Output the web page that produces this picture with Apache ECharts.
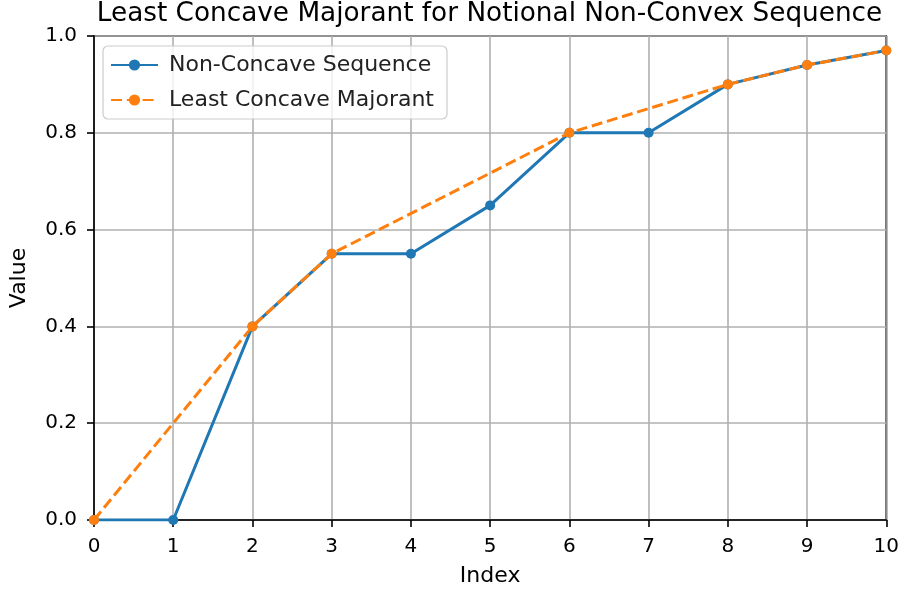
<!DOCTYPE html>
<html>
<head>
<meta charset="utf-8">
<script src="https://cdn.jsdelivr.net/npm/echarts@6/dist/echarts.min.js"></script>
<style>
  html, body { margin: 0; padding: 0; background: #fff; }
  #chart { width: 902px; height: 592px; }
</style>
</head>
<body>
<div id="chart"></div>
<script>
// Sequence values at each index
const seqIndex = [0, 1, 2, 3, 4, 5, 6, 7, 8, 9, 10];
const seqValues = [0, 0, 0.4, 0.55, 0.55, 0.65, 0.8, 0.8, 0.9, 0.94, 0.97];

// Vertices of the least concave majorant
const lcmIndex = [0, 2, 3, 6, 8, 9, 10];
const lcmValues = [0, 0.4, 0.55, 0.8, 0.9, 0.94, 0.97];

const titleText = 'Least Concave Majorant for Notional Non-Convex Sequence';
const xName = 'Index';
const yName = 'Value';

const FONT = 'DejaVu Sans';
const BLUE = '#1f77b4';
const ORANGE = '#ff7f0e';

const pairs = (xs, ys) => xs.map((x, i) => [x, ys[i]]);

const chart = echarts.init(document.getElementById('chart'), null, { renderer: 'canvas' });

const PLOT = { left: 92, top: 36, right: 887, bottom: 521 };

const axisCommon = {
  axisLine: { show: true, onZero: false, lineStyle: { color: '#000', width: 1.6 } },
  axisTick: { show: true, inside: false, length: 7, lineStyle: { color: '#000', width: 1.6 } },
  splitLine: { show: true, lineStyle: { color: '#b0b0b0', width: 1.6 } },
  nameTextStyle: { fontFamily: FONT, fontSize: 22, color: '#000' }
};

chart.setOption({
  animation: false,
  backgroundColor: '#ffffff',
  graphic: [{
    type: 'text',
    x: (PLOT.left + PLOT.right) / 2,
    y: 14.5,
    z: 10,
    style: {
      text: titleText,
      font: '26.3px "' + FONT + '"',
      fill: '#000',
      align: 'center',
      verticalAlign: 'middle'
    }
  }],
  grid: {
    show: true,
    left: PLOT.left,
    top: PLOT.top,
    right: 902 - PLOT.right,
    bottom: 592 - PLOT.bottom,
    borderColor: '#000',
    borderWidth: 1.6,
    backgroundColor: 'transparent',
    containLabel: false
  },
  legend: {
    orient: 'vertical',
    left: 103,
    top: 46,
    padding: [7, 13, 7, 7],
    itemGap: 11,
    itemWidth: 47,
    itemHeight: 14,
    backgroundColor: 'rgba(255,255,255,0.8)',
    borderColor: '#cccccc',
    borderWidth: 1.2,
    borderRadius: 5,
    textStyle: { fontFamily: FONT, fontSize: 22, lineHeight: 24, color: '#222', padding: [0, 0, 0, 6] },
    data: ['Non-Concave Sequence', 'Least Concave Majorant']
  },
  xAxis: Object.assign({}, axisCommon, {
    type: 'value',
    min: 0, max: 10, interval: 1,
    name: xName,
    nameLocation: 'middle',
    nameGap: 45,
    axisLabel: { fontFamily: FONT, fontSize: 20, color: '#000', margin: 17 }
  }),
  yAxis: Object.assign({}, axisCommon, {
    type: 'value',
    min: 0, max: 1, interval: 0.2,
    name: yName,
    nameLocation: 'middle',
    nameGap: 64,
    nameRotate: 90,
    axisLabel: {
      fontFamily: FONT, fontSize: 20, color: '#000', margin: 17,
      formatter: v => v.toFixed(1)
    }
  }),
  series: [
    {
      name: 'Non-Concave Sequence',
      type: 'line',
      data: pairs(seqIndex, seqValues),
      clip: true,
      symbol: 'circle',
      symbolSize: 10,
      showAllSymbol: true,
      color: BLUE,
      itemStyle: { color: BLUE },
      lineStyle: { color: BLUE, width: 3 },
      z: 2
    },
    {
      name: 'Least Concave Majorant',
      type: 'line',
      data: pairs(lcmIndex, lcmValues),
      clip: true,
      symbol: 'circle',
      symbolSize: 10,
      showAllSymbol: true,
      color: ORANGE,
      itemStyle: { color: ORANGE },
      lineStyle: { color: ORANGE, width: 3, type: [11, 4.8] },
      z: 3
    }
  ]
});
</script>
</body>
</html>
